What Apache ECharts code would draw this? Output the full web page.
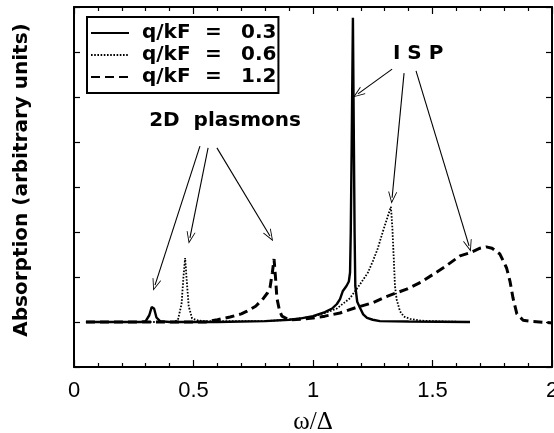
<!DOCTYPE html>
<html>
<head>
<meta charset="utf-8">
<script src="https://cdn.jsdelivr.net/npm/echarts@6/dist/echarts.min.js"></script>
<style>
html,body{margin:0;padding:0;background:#fff;}
#c{width:554px;height:433px;}
</style>
</head>
<body>
<div id="c"></div>
<script>
// ---- data ----
const seriesNames = ['0.3', '0.6', '1.2'];
const xTickLabels = ['0', '0.5', '1', '1.5', '2'];

// q/kF = 0.3 (solid)
const x03 = [0.05, 0.28, 0.30, 0.315, 0.325, 0.33, 0.335, 0.345, 0.36, 0.40, 0.60, 0.80, 0.90, 0.95, 1.00, 1.05, 1.08, 1.10, 1.113, 1.125, 1.14, 1.15, 1.155, 1.158, 1.162, 1.167, 1.171, 1.174, 1.177, 1.185, 1.197, 1.21, 1.226, 1.25, 1.28, 1.40, 1.657];
const y03 = [0, 0, 0.02, 0.15, 0.33, 0.36, 0.30, 0.10, 0.02, 0, 0, 0.02, 0.05, 0.08, 0.13, 0.22, 0.3, 0.4, 0.51, 0.69, 0.8, 0.9, 1.1, 2.0, 4.0, 6.76, 4.0, 2.0, 0.8, 0.45, 0.31, 0.17, 0.09, 0.05, 0.02, 0.01, 0];

// q/kF = 0.6 (dotted)
const x06 = [0.05, 0.42, 0.435, 0.45, 0.458, 0.465, 0.472, 0.48, 0.494, 0.52, 0.55, 0.80, 0.90, 1.00, 1.05, 1.10, 1.155, 1.197, 1.23, 1.251, 1.27, 1.293, 1.31, 1.326, 1.332, 1.338, 1.343, 1.35, 1.364, 1.38, 1.406, 1.45, 1.55, 1.657];
const y06 = [0, 0, 0.05, 0.4, 1.0, 1.42, 0.9, 0.35, 0.08, 0.03, 0.02, 0.02, 0.05, 0.12, 0.2, 0.3, 0.53, 0.84, 1.1, 1.36, 1.62, 2.02, 2.3, 2.56, 2.1, 1.4, 0.8, 0.5, 0.24, 0.12, 0.07, 0.03, 0.01, 0];

// q/kF = 1.2 (dashed)
const x12 = [0.05, 0.55, 0.60, 0.653, 0.70, 0.724, 0.76, 0.79, 0.81, 0.82, 0.83, 0.837, 0.843, 0.849, 0.86, 0.87, 0.90, 0.95, 1.00, 1.05, 1.113, 1.18, 1.251, 1.30, 1.35, 1.392, 1.45, 1.50, 1.55, 1.615, 1.657, 1.699, 1.725, 1.749, 1.782, 1.81, 1.824, 1.837, 1.853, 1.879, 1.92, 2.0];
const y12 = [0, 0, 0.05, 0.11, 0.18, 0.24, 0.35, 0.51, 0.65, 0.76, 1.1, 1.4, 1.0, 0.53, 0.25, 0.13, 0.05, 0.06, 0.09, 0.13, 0.2, 0.32, 0.43, 0.55, 0.65, 0.73, 0.88, 1.05, 1.22, 1.47, 1.54, 1.64, 1.67, 1.64, 1.51, 1.2, 0.91, 0.53, 0.18, 0.04, 0.01, -0.02];

// annotation arrows (data coordinates): [x1, y1, x2, y2]
const plasmonArrows = [[0.527, 3.91, 0.339, 0.82], [0.561, 3.87, 0.485, 1.87], [0.598, 3.87, 0.82, 1.91]];
const ispArrows = [[1.331, 5.62, 1.188, 5.07], [1.381, 5.53, 1.331, 2.76], [1.431, 5.58, 1.653, 1.69]];
const plasmonLabelPos = [0.632, 4.47];
const ispLabelPos = [1.44, 5.96];

// ---- chart ----
const zip = (xs, ys) => xs.map((x, i) => [x, ys[i]]);
const SANS = 'Liberation Sans, Arial, Helvetica, sans-serif';
const BOLD = 'DejaVu Sans, Liberation Sans, sans-serif';
const chevron = 'path://M5,0 L10,12 L9,12 L5,2.5 L1,12 L0,12 Z';

const arrowData = plasmonArrows.concat(ispArrows).map(a => [{coord: [a[0], a[1]]}, {coord: [a[2], a[3]]}]);

const chart = echarts.init(document.getElementById('c'), null, {renderer: 'canvas'});

const tickCommon = {inside: true, lineStyle: {color: '#000', width: 1.2}};
const option = {
  animation: false,
  backgroundColor: '#fff',
  grid: {left: 74, right: 2, top: 7, bottom: 66, containLabel: false, outerBoundsMode: 'none'},
  legend: {
    show: true,
    left: 87, top: 17,
    orient: 'vertical',
    borderColor: '#000', borderWidth: 2,
    padding: [6, 2, 6, 3],
    itemWidth: 38, itemHeight: 14, itemGap: 2,
    selectedMode: false,
    itemStyle: {color: 'rgba(0,0,0,0)', borderWidth: 0, opacity: 0},
    data: seriesNames.map(n => 'q/kF = ' + n),
    formatter: function (name) {
      const v = name.split('= ')[1];
      return '{a|q/kF}{b|=}{c|' + v + '}';
    },
    textStyle: {
      color: '#000',
      rich: {
        a: {fontFamily: BOLD, fontWeight: 'bold', fontSize: 20, width: 63, padding: [0, 0, 0, 8], lineHeight: 21},
        b: {fontFamily: BOLD, fontWeight: 'bold', fontSize: 20, width: 36, lineHeight: 21},
        c: {fontFamily: BOLD, fontWeight: 'bold', fontSize: 20, lineHeight: 21}
      }
    }
  },
  xAxis: [{
    type: 'value', min: 0, max: 2, interval: 0.5, position: 'bottom',
    name: 'ω/Δ', nameLocation: 'middle', nameGap: 43,
    nameTextStyle: {fontFamily: 'Liberation Serif, Times New Roman, serif', fontSize: 25, color: '#000'},
    axisLine: {show: true, onZero: false, lineStyle: {color: '#000', width: 2}},
    axisTick: Object.assign({length: 7}, tickCommon),
    minorTick: {show: true, splitNumber: 5, length: 4, lineStyle: {color: '#000', width: 1.2}},
    axisLabel: {
      margin: 13, fontSize: 22, color: '#000', fontFamily: SANS,
      formatter: function (v) { return xTickLabels[Math.round(v / 0.5)]; }
    },
    splitLine: {show: false}
  }, {
    type: 'value', min: 0, max: 2, interval: 0.5, position: 'top',
    axisLine: {show: true, onZero: false, lineStyle: {color: '#000', width: 2}},
    axisTick: Object.assign({length: 7}, tickCommon),
    minorTick: {show: true, splitNumber: 5, length: 4, lineStyle: {color: '#000', width: 1.2}},
    axisLabel: {show: false},
    splitLine: {show: false}
  }],
  yAxis: [{
    type: 'value', min: -1, max: 7, interval: 1, position: 'left',
    name: 'Absorption (arbitrary units)', nameLocation: 'middle', nameGap: 42, nameRotate: 90,
    nameTextStyle: {fontFamily: BOLD, fontWeight: 'bold', fontSize: 20, color: '#000', padding: [0, 0, 0, 14]},
    axisLine: {show: true, onZero: false, lineStyle: {color: '#000', width: 2}},
    axisTick: Object.assign({length: 6}, tickCommon),
    axisLabel: {show: false},
    splitLine: {show: false}
  }, {
    type: 'value', min: -1, max: 7, interval: 1, position: 'right',
    axisLine: {show: true, onZero: false, lineStyle: {color: '#000', width: 2}},
    axisTick: Object.assign({length: 6}, tickCommon),
    axisLabel: {show: false},
    splitLine: {show: false}
  }],
  series: [{
    name: 'q/kF = 0.3', type: 'line', xAxisIndex: 0, yAxisIndex: 0,
    data: zip(x03, y03), showSymbol: false, symbol: 'none', smooth: false,
    lineStyle: {color: '#000', width: 2.4, type: 'solid'},
    itemStyle: {color: '#000'},
    z: 4,
    markLine: {
      silent: true, animation: false,
      symbol: ['none', chevron], symbolSize: [9, 12],
      lineStyle: {color: '#000', width: 1.1, type: 'solid'},
      label: {show: false},
      data: arrowData
    }
  }, {
    name: 'q/kF = 0.6', type: 'line', xAxisIndex: 0, yAxisIndex: 0,
    data: zip(x06, y06), showSymbol: false, symbol: 'none',
    lineStyle: {color: '#000', width: 1.8, type: [1.6, 1.6]},
    itemStyle: {color: '#000'},
    z: 3
  }, {
    name: 'q/kF = 1.2', type: 'line', xAxisIndex: 0, yAxisIndex: 0,
    data: zip(x12, y12), showSymbol: false, symbol: 'none',
    lineStyle: {color: '#000', width: 3, type: [9, 5]},
    itemStyle: {color: '#000'},
    z: 2
  }]
};
chart.setOption(option);

// text annotations placed through the axes' scales
function place() {
  const p1 = chart.convertToPixel({xAxisIndex: 0, yAxisIndex: 0}, plasmonLabelPos);
  const p2 = chart.convertToPixel({xAxisIndex: 0, yAxisIndex: 0}, ispLabelPos);
  chart.setOption({
    graphic: [{
      type: 'text', x: p1[0], y: p1[1],
      style: {text: '2D  plasmons', fontFamily: BOLD, fontWeight: 'bold', fontSize: 20, fill: '#000', align: 'center', verticalAlign: 'middle'}
    }, {
      type: 'text', x: p2[0], y: p2[1],
      style: {text: 'I S P', fontFamily: BOLD, fontWeight: 'bold', fontSize: 20, fill: '#000', align: 'center', verticalAlign: 'middle'}
    }]
  });
}
place();
</script>
</body>
</html>
